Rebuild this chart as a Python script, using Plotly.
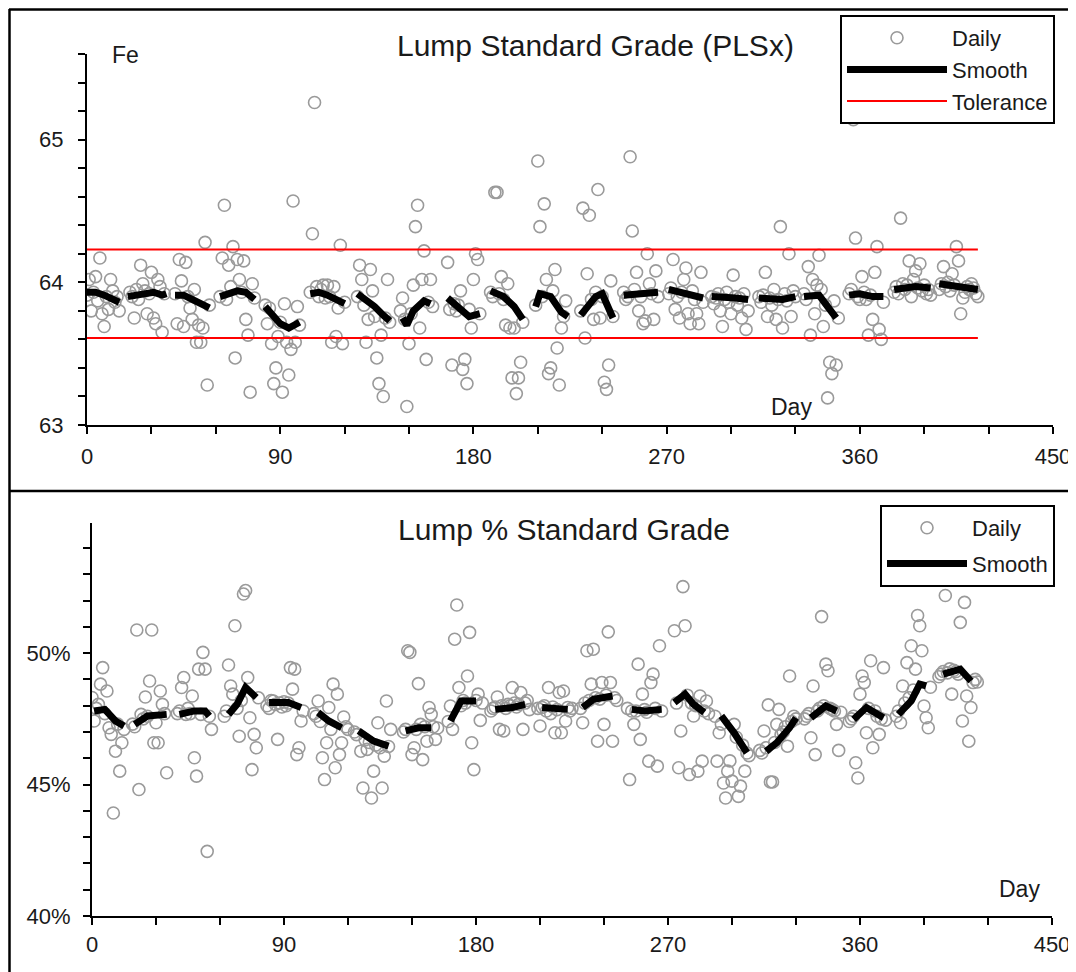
import plotly.graph_objects as go

# ---------------- Top panel: Lump Standard Grade (PLSx) ----------------
top_daily_day = [
    1, 4, 6, 11, 0, 5, 9, 13, 2, 7, 10, 15, 8, 3, 12, 14,
    25, 30, 33, 26, 34, 21, 24, 29, 22, 28, 31, 32, 35, 20, 23, 27, 36,
    43, 46, 44, 55, 50, 48, 42, 45, 52, 54, 51, 53, 56, 49, 41, 47, 57,
    64, 68, 63, 70, 73, 66, 67, 71, 77, 65, 74, 75, 69, 76, 62, 72, 78,
    96, 92, 98, 85, 84, 86, 89, 93, 95, 88, 94, 87, 91, 97, 83, 90, 99,
    106, 105, 118, 107, 110, 112, 115, 108, 111, 113, 117, 116, 119, 114, 104, 109, 120,
    127, 132, 128, 140, 133, 129, 131, 134, 137, 130, 135, 136, 138, 126, 139, 141,
    154, 153, 157, 156, 160, 152, 147, 161, 155, 150, 158, 149, 148, 151, 159, 146,
    181, 182, 180, 168, 174, 169, 178, 179, 170, 175, 176, 177, 171, 172, 173, 183,
    190, 191, 193, 192, 196, 195, 197, 199, 202, 198, 201, 200, 188, 189, 194, 203,
    210, 213, 211, 218, 214, 217, 221, 219, 215, 216, 220, 209, 212, 222, 223,
    231, 234, 238, 233, 244, 232, 236, 239, 243, 241, 242, 230, 235, 237, 240, 245,
    253, 254, 261, 256, 265, 262, 252, 258, 257, 260, 264, 259, 250, 251, 255, 263, 266,
    273, 279, 286, 278, 282, 274, 280, 284, 285, 281, 276, 271, 272, 275, 277, 283, 287,
    301, 293, 296, 300, 305, 307, 306, 291, 292, 294, 295, 297, 298, 299, 302, 303, 304, 308,
    323, 327, 316, 329, 320, 317, 324, 321, 328, 313, 314, 315, 318, 319, 322, 325, 326, 330,
    341, 336, 338, 348, 339, 343, 337, 346, 349, 347, 345, 340, 342, 334, 335, 344, 350,
    357, 358, 368, 361, 367, 363, 366, 364, 369, 370, 355, 356, 359, 360, 362, 365, 371,
    379, 383, 388, 386, 380, 385, 391, 384, 381, 376, 377, 378, 382, 387, 389, 390, 392, 393,
    405, 406, 399, 403, 400, 410, 414, 407, 408, 397, 398, 401, 402, 404, 409, 411, 412, 413, 415,
]
top_daily_fe = [
    64.02, 64.04, 64.17, 64.02, 63.91, 63.87, 63.90, 63.86, 63.80, 63.78, 63.81, 63.80, 63.69, 63.93, 63.94, 63.90,
    64.12, 64.07, 64.02, 63.99, 63.97, 63.90, 63.88, 63.92, 63.75, 63.78, 63.75, 63.71, 63.65, 63.93, 63.95, 63.94, 63.92,
    64.16, 64.14, 64.01, 64.28, 63.95, 63.82, 63.71, 63.69, 63.70, 63.68, 63.58, 63.58, 63.28, 63.74, 63.92, 63.90, 63.84,
    64.54, 64.25, 64.17, 64.16, 64.15, 64.12, 63.97, 64.02, 63.99, 63.88, 63.74, 63.63, 63.47, 63.23, 63.90, 63.93, 63.89,
    64.57, 63.85, 63.83, 63.82, 63.71, 63.57, 63.62, 63.58, 63.53, 63.40, 63.35, 63.29, 63.23, 63.58, 63.84, 63.72, 63.70,
    65.26, 64.34, 64.26, 63.97, 63.98, 63.98, 63.97, 63.90, 63.89, 63.90, 63.82, 63.62, 63.57, 63.58, 63.93, 63.95, 63.86,
    64.12, 64.09, 64.02, 64.02, 63.94, 63.84, 63.74, 63.76, 63.63, 63.58, 63.47, 63.29, 63.20, 63.90, 63.75, 63.72,
    64.54, 64.39, 64.22, 64.02, 64.02, 63.98, 63.89, 63.83, 63.68, 63.57, 63.46, 63.13, 63.74, 63.78, 63.86, 63.80,
    64.20, 64.16, 64.02, 64.14, 63.94, 63.81, 63.81, 63.68, 63.42, 63.39, 63.46, 63.29, 63.85, 63.80, 63.84, 63.78,
    64.63, 64.63, 64.04, 63.92, 63.99, 63.70, 63.68, 63.68, 63.44, 63.33, 63.33, 63.22, 63.93, 63.90, 63.88, 63.72,
    64.85, 64.55, 64.39, 64.09, 64.02, 63.94, 63.68, 63.54, 63.36, 63.40, 63.28, 63.84, 63.90, 63.76, 63.87,
    64.52, 64.47, 64.65, 64.06, 64.01, 63.61, 63.74, 63.75, 63.42, 63.30, 63.25, 63.80, 63.88, 63.93, 63.90, 63.76,
    64.88, 64.36, 64.20, 64.07, 64.08, 63.99, 63.90, 63.90, 63.80, 63.73, 63.74, 63.71, 63.93, 63.88, 63.95, 63.92, 63.90,
    64.16, 64.10, 64.07, 64.02, 63.94, 63.81, 63.78, 63.78, 63.71, 63.71, 63.75, 63.92, 63.96, 63.90, 63.93, 63.88, 63.86,
    64.05, 63.89, 63.69, 63.78, 63.75, 63.67, 63.92, 63.90, 63.85, 63.92, 63.80, 63.88, 63.93, 63.86, 63.90, 63.84, 63.89, 63.80,
    64.39, 64.20, 64.07, 63.94, 63.95, 63.76, 63.68, 63.74, 63.76, 63.90, 63.86, 63.91, 63.89, 63.84, 63.88, 63.92, 63.87, 63.90,
    64.19, 64.11, 64.02, 63.87, 63.78, 63.69, 63.63, 63.44, 63.42, 63.36, 63.19, 63.98, 63.95, 63.92, 63.88, 63.84, 63.75,
    65.14, 64.31, 64.25, 64.04, 64.07, 63.88, 63.74, 63.63, 63.67, 63.60, 63.92, 63.95, 63.90, 63.88, 63.93, 63.91, 63.86,
    64.45, 64.15, 64.13, 64.08, 63.99, 64.02, 63.92, 63.90, 63.95, 63.93, 63.97, 63.92, 63.98, 63.96, 63.94, 63.98, 63.95, 63.91,
    64.25, 64.15, 64.11, 64.06, 63.97, 63.97, 63.92, 63.78, 63.89, 63.95, 63.99, 64.00, 63.94, 63.98, 63.93, 63.95, 63.99, 63.96, 63.90,
]
top_smooth_segments = [
    [(0, 63.93), (4, 63.93), (8, 63.91), (12, 63.88), (15, 63.86)],
    [(19, 63.90), (23, 63.91), (27, 63.93), (31, 63.93), (35, 63.91), (37, 63.92)],
    [(41, 63.91), (45, 63.91), (49, 63.88), (53, 63.85), (57, 63.82)],
    [(62, 63.90), (66, 63.92), (70, 63.94), (74, 63.93), (78, 63.88)],
    [(83, 63.83), (86, 63.78), (90, 63.71), (94, 63.68), (97, 63.70), (99, 63.72)],
    [(104, 63.92), (108, 63.93), (112, 63.91), (116, 63.88), (120, 63.85)],
    [(126, 63.92), (130, 63.88), (134, 63.83), (138, 63.77), (141, 63.73)],
    [(147, 63.75), (149, 63.70), (152, 63.80), (157, 63.87), (160, 63.85)],
    [(168, 63.89), (173, 63.83), (178, 63.76), (183, 63.78)],
    [(188, 63.94), (194, 63.90), (199, 63.83), (203, 63.74)],
    [(209, 63.83), (211, 63.92), (216, 63.90), (221, 63.79), (224, 63.76)],
    [(230, 63.77), (237, 63.90), (240, 63.92), (245, 63.75)],
    [(250, 63.91), (255, 63.92), (260, 63.92), (266, 63.93)],
    [(271, 63.95), (276, 63.93), (282, 63.91), (287, 63.89)],
    [(291, 63.90), (296, 63.89), (302, 63.89), (308, 63.88)],
    [(313, 63.89), (318, 63.88), (324, 63.88), (330, 63.90)],
    [(334, 63.90), (341, 63.91), (345, 63.83), (349, 63.75)],
    [(355, 63.91), (360, 63.92), (366, 63.90), (371, 63.90)],
    [(376, 63.95), (381, 63.96), (386, 63.97), (393, 63.96)],
    [(397, 63.99), (403, 63.98), (409, 63.97), (415, 63.95)],
]
tol_days = [0, 415]
tol_high = 64.23
tol_low = 63.61

# ---------------- Bottom panel: Lump % Standard Grade ----------------
bot_daily_day = [
    5, 4, 7, 0, 3, 1, 8, 9, 14, 11, 13, 10, 2, 6, 12, 15,
    21, 28, 27, 25, 32, 33, 23, 30, 29, 31, 35, 22, 19, 20, 24, 26, 34,
    52, 50, 53, 43, 42, 47, 44, 51, 56, 48, 49, 54, 40, 41, 45, 46, 55,
    72, 71, 67, 64, 65, 73, 66, 74, 63, 69, 76, 77, 75, 62, 68, 70, 78,
    93, 95, 94, 85, 88, 91, 98, 87, 97, 96, 82, 83, 84, 86, 89, 90, 92, 99,
    113, 115, 106, 111, 118, 112, 117, 110, 108, 116, 114, 109, 104, 105, 107, 119, 120,
    138, 134, 140, 126, 129, 137, 132, 127, 136, 131, 123, 124, 128, 130, 133, 135, 139,
    148, 149, 153, 158, 159, 154, 161, 157, 150, 155, 146, 147, 151, 152, 156, 160, 162,
    171, 170, 177, 176, 172, 168, 181, 182, 169, 178, 179, 167, 173, 174, 175, 180, 183,
    197, 201, 190, 191, 202, 193, 187, 188, 189, 192, 194, 195, 196, 198, 199, 200, 203, 204, 205,
    214, 219, 211, 210, 217, 220, 221, 223, 222, 209, 212, 213, 215, 216, 218, 224, 225,
    242, 232, 235, 234, 239, 243, 230, 240, 237, 244, 229, 231, 233, 236, 238, 241, 245, 246,
    266, 256, 263, 262, 258, 253, 254, 257, 261, 265, 252, 251, 255, 259, 260, 264, 267,
    277, 273, 278, 285, 288, 276, 282, 275, 280, 286, 284, 274, 279, 281, 283, 287, 289,
    301, 294, 293, 298, 306, 300, 296, 304, 297, 303, 299, 292, 295, 302, 305, 307, 308,
    327, 317, 322, 315, 321, 326, 318, 319, 313, 314, 316, 320, 323, 324, 325, 328, 329, 330,
    342, 344, 345, 338, 337, 339, 349, 350, 334, 335, 336, 340, 341, 343, 346, 347, 348, 351,
    365, 371, 361, 362, 360, 363, 369, 366, 358, 359, 355, 356, 357, 364, 367, 368, 370, 372,
    387, 388, 384, 389, 382, 386, 380, 390, 379, 391, 392, 377, 378, 381, 383, 385, 393,
    400, 409, 407, 413, 403, 410, 412, 408, 411, 397, 398, 399, 401, 402, 404, 405, 406, 414, 415,
]
bot_daily_pct = [
    49.45, 48.82, 48.56, 48.31, 48.05, 47.42, 47.16, 46.91, 46.59, 46.27, 45.51, 43.92, 47.90, 47.70, 47.30, 47.10,
    50.88, 50.88, 48.94, 48.33, 48.56, 48.05, 47.67, 47.35, 46.59, 46.59, 45.45, 44.81, 47.30, 47.20, 47.50, 47.60, 47.70,
    50.03, 49.39, 49.39, 49.07, 48.69, 48.37, 47.67, 47.67, 47.10, 46.02, 45.32, 42.46, 47.70, 47.80, 47.90, 47.70, 47.60,
    52.38, 52.25, 51.04, 49.55, 48.75, 49.07, 48.44, 47.54, 47.80, 46.84, 46.91, 46.40, 45.57, 47.60, 47.90, 48.20, 48.30,
    49.45, 49.39, 48.63, 48.18, 48.10, 48.00, 47.42, 46.72, 46.40, 46.14, 48.00, 47.90, 48.20, 48.05, 47.95, 48.15, 48.10, 47.80,
    48.82, 48.44, 48.18, 47.93, 47.57, 47.10, 46.59, 46.59, 46.02, 46.14, 45.64, 45.19, 47.70, 47.60, 47.40, 47.20, 47.10,
    48.18, 47.35, 47.10, 46.27, 46.34, 46.08, 45.51, 44.87, 44.87, 44.49, 47.00, 46.90, 46.70, 46.60, 46.50, 46.40, 46.45,
    50.09, 50.03, 48.84, 47.93, 47.67, 47.29, 46.72, 46.65, 46.14, 45.95, 47.00, 47.10, 46.40, 47.10, 47.20, 47.20, 47.15,
    51.83, 50.53, 50.79, 49.13, 48.69, 47.99, 48.44, 47.44, 47.10, 46.59, 45.57, 47.40, 48.00, 48.20, 48.10, 48.20, 48.10,
    48.69, 48.50, 48.33, 47.10, 47.10, 47.04, 47.80, 47.90, 47.95, 48.00, 47.90, 48.05, 48.00, 48.10, 47.95, 48.05, 48.10, 48.20, 47.85,
    48.69, 48.50, 47.93, 47.23, 46.97, 46.97, 48.56, 47.93, 47.42, 47.90, 48.00, 47.80, 47.70, 47.95, 47.85, 47.80, 47.90,
    50.81, 50.09, 50.15, 48.82, 48.88, 48.88, 47.35, 47.29, 46.65, 46.65, 47.90, 48.10, 48.20, 48.30, 48.25, 48.40, 48.30, 48.20,
    50.28, 49.58, 49.20, 48.88, 48.44, 47.80, 47.29, 46.72, 45.89, 45.70, 45.19, 47.90, 47.80, 47.85, 47.75, 47.90, 47.80,
    52.53, 50.85, 51.04, 48.37, 48.18, 47.04, 47.61, 45.64, 45.38, 45.89, 45.51, 48.10, 48.40, 48.10, 48.00, 47.80, 47.70,
    47.29, 46.97, 45.89, 45.51, 45.51, 45.13, 45.06, 44.94, 44.49, 44.55, 45.90, 47.60, 47.30, 46.80, 46.50, 46.20, 46.10,
    49.13, 48.03, 47.86, 47.04, 47.29, 46.46, 45.10, 45.10, 46.30, 46.20, 46.40, 46.60, 46.90, 47.00, 47.20, 47.40, 47.60, 47.50,
    51.39, 49.58, 49.33, 48.75, 46.78, 46.14, 47.29, 46.30, 47.50, 47.60, 47.70, 47.80, 47.90, 48.00, 47.90, 47.85, 47.80, 47.75,
    49.71, 49.45, 49.13, 48.88, 48.44, 46.97, 46.91, 46.40, 45.83, 45.25, 47.40, 47.50, 47.60, 47.90, 47.80, 47.60, 47.50, 47.45,
    51.43, 51.04, 50.28, 50.09, 49.64, 49.39, 48.75, 47.99, 47.35, 47.54, 47.16, 47.60, 47.80, 48.10, 48.30, 48.60, 48.70,
    52.19, 51.93, 51.17, 48.88, 48.44, 48.37, 47.93, 47.42, 46.65, 49.10, 49.20, 49.30, 49.25, 49.40, 49.35, 49.30, 49.20, 49.00, 48.90,
]
bot_smooth_segments = [
    [(1, 47.80), (6, 47.86), (11, 47.42), (15, 47.23)],
    [(20, 47.29), (26, 47.61), (35, 47.67)],
    [(41, 47.67), (48, 47.80), (53, 47.80), (55, 47.61)],
    [(64, 47.67), (68, 48.05), (72, 48.69), (77, 48.31)],
    [(83, 48.12), (92, 48.12), (98, 47.93)],
    [(106, 47.74), (111, 47.42), (117, 47.16)],
    [(125, 47.04), (132, 46.65), (139, 46.46)],
    [(147, 47.04), (153, 47.16), (159, 47.16)],
    [(168, 47.42), (173, 48.18), (180, 48.18)],
    [(189, 47.86), (197, 47.93), (203, 48.05)],
    [(211, 47.93), (219, 47.85), (223, 47.86)],
    [(230, 47.93), (235, 48.24), (244, 48.37)],
    [(253, 47.86), (259, 47.80), (267, 47.86)],
    [(273, 48.12), (278, 48.44), (282, 48.05), (287, 47.74)],
    [(295, 47.61), (301, 46.97), (307, 46.21)],
    [(316, 46.27), (321, 46.59), (327, 47.16), (330, 47.54)],
    [(337, 47.54), (344, 47.99), (349, 47.80)],
    [(357, 47.48), (363, 47.93), (371, 47.54)],
    [(378, 47.67), (384, 48.18), (388, 48.82), (391, 48.75)],
    [(399, 49.20), (407, 49.39), (412, 48.94)],
]

x_ticks = [0, 90, 180, 270, 360, 450]


def join_segments(segs):
    xs, ys = [], []
    for seg in segs:
        for d, v in seg:
            xs.append(d)
            ys.append(v)
        xs.append(None)
        ys.append(None)
    return xs, ys


W, H = 1076, 972
OFF = 8  # page offset of the plot div (body margin)
FONT = "Liberation Sans, Arial, sans-serif"
TXT = "#1a1a1a"
GRAY = "#9a9a9a"


def px(x):
    return (x - OFF) / W


def py(y):
    return 1 - (y - OFF) / H


fig = go.Figure()

ts_x, ts_y = join_segments(top_smooth_segments)
bs_x, bs_y = join_segments(bot_smooth_segments)

fig.add_trace(go.Scatter(
    x=top_daily_day, y=top_daily_fe, mode="markers", name="Daily",
    marker=dict(symbol="circle-open", size=12, color=GRAY, line=dict(width=1.6, color=GRAY)),
    xaxis="x", yaxis="y", legend="legend"))
fig.add_trace(go.Scatter(
    x=ts_x, y=ts_y, mode="lines", name="Smooth", connectgaps=False,
    line=dict(color="black", width=7), xaxis="x", yaxis="y", legend="legend"))
fig.add_trace(go.Scatter(
    x=tol_days + [None] + tol_days, y=[tol_high, tol_high, None, tol_low, tol_low],
    mode="lines", name="Tolerance", connectgaps=False,
    line=dict(color="#ff0000", width=2), xaxis="x", yaxis="y", legend="legend"))

fig.add_trace(go.Scatter(
    x=bot_daily_day, y=bot_daily_pct, mode="markers", name="Daily",
    marker=dict(symbol="circle-open", size=12, color=GRAY, line=dict(width=1.6, color=GRAY)),
    xaxis="x2", yaxis="y2", legend="legend2", legendgroup="bd"))
fig.add_trace(go.Scatter(
    x=bs_x, y=bs_y, mode="lines", name="Smooth", connectgaps=False,
    line=dict(color="black", width=7), xaxis="x2", yaxis="y2", legend="legend2", legendgroup="bs"))

axis_common = dict(
    showline=True, linecolor="black", linewidth=2, ticks="outside", ticklen=7,
    tickwidth=2, tickcolor="black", showgrid=False, zeroline=False, automargin=False,
    tickfont=dict(family=FONT, size=22, color=TXT),
)
minor_common = dict(ticks="outside", ticklen=7, tickwidth=2, tickcolor="black")

fig.update_layout(
    width=W, height=H, margin=dict(l=0, r=0, t=0, b=0, pad=0),
    paper_bgcolor="white", plot_bgcolor="white",
    font=dict(family=FONT, color=TXT),
    xaxis=dict(domain=[px(87), px(1053)], range=[0, 450], anchor="y",
               tickmode="array", tickvals=x_ticks,
               minor=dict(dtick=30, tick0=0, **minor_common),
               ticklabelstandoff=4, **axis_common),
    yaxis=dict(domain=[py(425), py(54)], range=[63, 65.6], anchor="x",
               tickmode="array", tickvals=[63, 64, 65],
               minor=dict(dtick=0.2, tick0=63, **minor_common),
               ticklabelstandoff=10, **axis_common),
    xaxis2=dict(domain=[px(92), px(1052)], range=[0, 450], anchor="y2",
                tickmode="array", tickvals=x_ticks,
                minor=dict(dtick=30, tick0=0, **minor_common),
                ticklabelstandoff=1, **axis_common),
    yaxis2=dict(domain=[py(916), py(523)], range=[40, 54.95], anchor="x2",
                tickmode="array", tickvals=[40, 45, 50], ticktext=["40%", "45%", "50%"],
                minor=dict(dtick=1, tick0=40, **minor_common),
                ticklabelstandoff=8, **axis_common),
    legend=dict(x=px(840), y=py(15), xanchor="left", yanchor="top",
                bgcolor="white", bordercolor="black", borderwidth=2,
                font=dict(family=FONT, size=22, color=TXT), itemwidth=100,
                tracegroupgap=0),
    legend2=dict(x=px(880), y=py(505), xanchor="left", yanchor="top",
                 bgcolor="white", bordercolor="black", borderwidth=2,
                 font=dict(family=FONT, size=22, color=TXT), itemwidth=80,
                 tracegroupgap=4),
    showlegend=True,
)

annotations = [
    dict(text="Lump Standard Grade (PLSx)", x=px(595), y=py(45), font=dict(size=30)),
    dict(text="Fe", x=px(110), y=py(55), xanchor="left", font=dict(size=23)),
    dict(text="Day", x=px(791), y=py(407), font=dict(size=23)),
    dict(text="Lump % Standard Grade", x=px(564), y=py(529), font=dict(size=30)),
    dict(text="Day", x=px(1019), y=py(889), font=dict(size=23)),
]
for a in annotations:
    a.update(xref="paper", yref="paper", showarrow=False, yanchor="middle",
             xanchor=a.get("xanchor", "center"))
    a["font"].update(family=FONT, color=TXT)
fig.update_layout(annotations=annotations)

# panel frames
frame = dict(type="line", xref="paper", yref="paper", line=dict(color="black", width=2.5))
fig.update_layout(shapes=[
    dict(frame, x0=px(9), x1=px(1090), y0=py(9.5), y1=py(9.5)),
    dict(frame, x0=px(9.5), x1=px(9.5), y0=py(9), y1=py(990)),
    dict(frame, x0=px(9), x1=px(1090), y0=py(491), y1=py(491)),
])

fig.write_html("out.html")
